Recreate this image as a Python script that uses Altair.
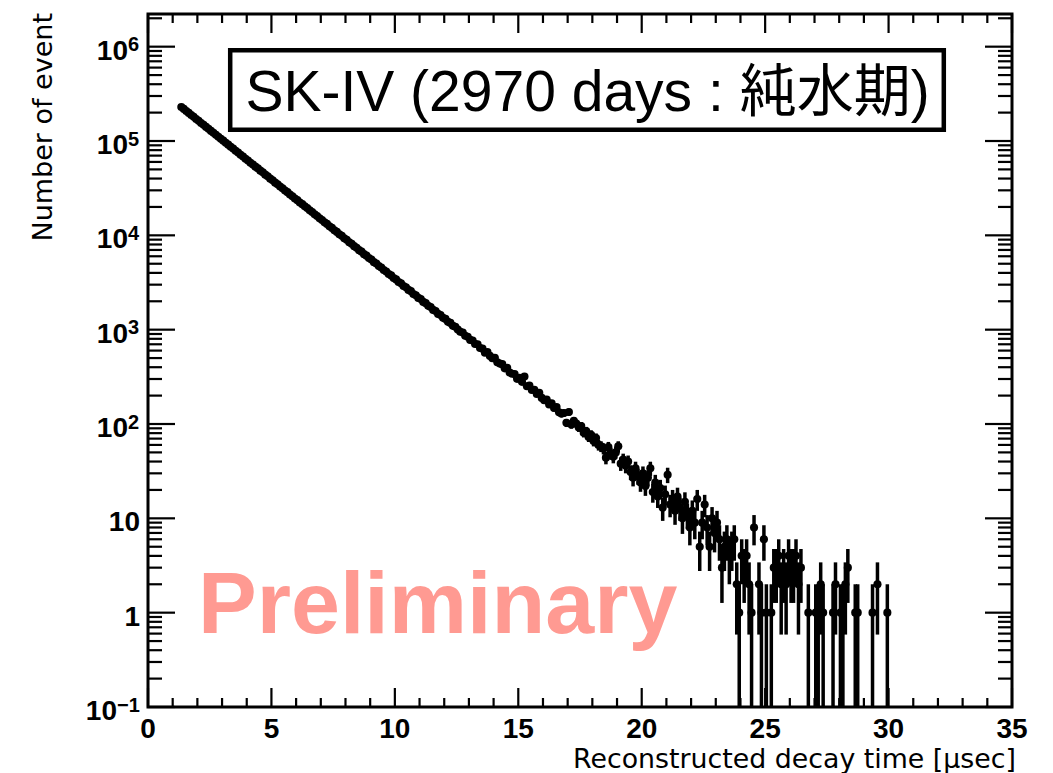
import altair as alt
import pandas as pd

# Reconstructed decay-time histogram, 0.1 usec bins, first bin centred at 1.35 usec
counts = [
    229400, 218900, 208000, 198600, 188700, 180300, 171200, 163600, 155400, 148500,
    141100, 134800, 128000, 122400, 116200, 111100, 105400, 100800, 95700, 91500,
    86900, 83100, 78800, 75400, 71500, 68500, 64900, 62200, 58900, 56400,
    53500, 51200, 48500, 46500, 44000, 42200, 39900, 38300, 36200, 34800,
    32900, 31600, 29800, 28700, 27100, 26000, 24600, 23600, 22300, 21400,
    20300, 19450, 18400, 17680, 16700, 16030, 15150, 14560, 13740, 13220,
    12480, 11990, 11320, 10880, 10270, 9880, 9320, 8970, 8460, 8140,
    7680, 7390, 6970, 6710, 6320, 6090, 5740, 5530, 5200, 5020,
    4720, 4560, 4290, 4140, 3890, 3760, 3530, 3410, 3200, 3100,
    2900, 2815, 2640, 2560, 2390, 2320, 2170, 2110, 1970, 1910,
    1790, 1735, 1620, 1575, 1470, 1430, 1335, 1300, 1210, 1180,
    1098, 1074, 1003, 951, 931, 861, 842, 779, 768, 705,
    701, 640, 629, 571, 580, 527, 498, 503, 452, 437,
    431, 389, 395, 352, 341, 338, 301, 309, 280, 318,
    251, 255, 229, 231, 208, 214, 189, 179, 182, 161,
    166, 148, 151, 133, 129, 131, 103, 134, 99, 108,
    101, 92, 95, 81, 84, 73, 77, 66, 71, 60,
    58, 55, 44, 57, 49, 45, 50, 58, 38, 42,
    36, 40, 31, 27, 34, 28, 24, 30, 22, 27,
    34, 19, 24, 17, 21, 13, 18, 29, 14, 16,
    12, 17, 13, 10, 15, 11, 8, 12, 9, 16,
    5, 9, 14, 8, 5, 10, 7, 9, 6, 3,
    5, 6, 4, 5, 6, 2, 1, 4, 3, 4,
    2, 1, 8, 0, 2, 1, 6, 1, 0, 1,
    3, 3, 4, 2, 3, 2, 4, 3, 3, 4,
    2, 3, 0, 0, 1, 0, 0, 1, 1, 2,
    1, 0, 0, 0, 1, 2, 0, 1, 1, 2,
    3, 0, 0, 1, 1, 0, 0, 0, 0, 0,
    1, 0, 2, 0, 0, 0, 1,
]
first_center = 1.35
bin_width = 0.1
bin_centers = [round(first_center + bin_width * i, 2) for i in range(len(counts))]

x_major = [0, 5, 10, 15, 20, 25, 30, 35]
x_minor = [v for v in range(0, 36) if v % 5 != 0]
y_major = [0.1, 1, 10, 100, 1000, 1e4, 1e5, 1e6]
y_label_base = ["10", "1", "10", "10", "10", "10", "10", "10"]
y_label_exp = ["\u22121", "", "", "2", "3", "4", "5", "6"]
y_minor = [m * d for d in y_major for m in range(2, 10) if m * d <= 2.2e6]

x_title = "Reconstructed decay time [\u03bcsec]"
y_title = "Number of event"
banner = "SK-IV (2970 days : 純水期)"
watermark = "Preliminary"

W, H = 864, 693
Y_MIN, Y_MAX = 0.1, 2.22e6

xs = alt.Scale(domain=[0, 35], nice=False, zero=False)
ys = alt.Scale(type="log", domain=[Y_MIN, Y_MAX], nice=False)

LABEL_FONT = "Liberation Sans"
TITLE_FONT = "DejaVu Sans"

one = pd.DataFrame({"k": [0]})

# ---- histogram points with sqrt(N) error bars ----
hist = (
    alt.Chart(pd.DataFrame({"t": bin_centers, "n": counts}))
    .transform_filter("datum.n > 0")
    .transform_calculate(
        hi="datum.n + sqrt(datum.n)",
        lo=f"max(datum.n - sqrt(datum.n), {Y_MIN})",
    )
)
errbars = hist.mark_rule(color="black", strokeWidth=3.5, clip=True).encode(
    x=alt.X("t:Q", scale=xs, axis=None),
    y=alt.Y("lo:Q", scale=ys, axis=None),
    y2="hi:Q",
)
dots = hist.mark_circle(color="black", size=66, opacity=1, clip=True).encode(
    x=alt.X("t:Q", scale=xs, axis=None),
    y=alt.Y("n:Q", scale=ys, axis=None),
)

# ---- inward ticks on all four sides ----
tick_style = dict(color="black", strokeWidth=2.2)


def x_ticks(values, length):
    d = alt.Chart(pd.DataFrame({"v": values}))
    enc_x = alt.X("v:Q", scale=xs, axis=None)
    return [
        d.mark_rule(**tick_style).encode(x=enc_x, y=alt.value(H), y2=alt.value(H - length)),
        d.mark_rule(**tick_style).encode(x=enc_x, y=alt.value(0), y2=alt.value(length)),
    ]


def y_ticks(values, length):
    d = alt.Chart(pd.DataFrame({"v": values}))
    enc_y = alt.Y("v:Q", scale=ys, axis=None)
    return [
        d.mark_rule(**tick_style).encode(y=enc_y, x=alt.value(0), x2=alt.value(length)),
        d.mark_rule(**tick_style).encode(y=enc_y, x=alt.value(W), x2=alt.value(W - length)),
    ]


ticks = x_ticks(x_major, 19) + x_ticks(x_minor, 9) + y_ticks(y_major, 27) + y_ticks(y_minor, 14)

# ---- tick labels ----
x_labels = (
    alt.Chart(pd.DataFrame({"v": x_major, "s": [str(v) for v in x_major]}))
    .mark_text(font=LABEL_FONT, fontWeight="bold", fontSize=28, align="center",
               baseline="alphabetic", color="black")
    .encode(x=alt.X("v:Q", scale=xs, axis=None), y=alt.value(H + 30.5), text="s:N")
)

ylab = alt.Chart(pd.DataFrame({"v": y_major, "base": y_label_base, "sup": y_label_exp}))
base_style = dict(font=LABEL_FONT, fontWeight="bold", fontSize=28, baseline="alphabetic",
                  color="black", dy=13)
sup_style = dict(font=LABEL_FONT, fontWeight="bold", fontSize=20, baseline="alphabetic",
                 color="black", dy=4.5, align="left")
y_enc = alt.Y("v:Q", scale=ys, axis=None)
y_labels = [
    ylab.transform_filter("datum.sup == ''")
        .mark_text(align="right", **base_style)
        .encode(y=y_enc, x=alt.value(-8), text="base:N"),
    ylab.transform_filter("length(datum.sup) == 1")
        .mark_text(align="right", **base_style)
        .encode(y=y_enc, x=alt.value(-20), text="base:N"),
    ylab.transform_filter("length(datum.sup) == 1")
        .mark_text(**sup_style)
        .encode(y=y_enc, x=alt.value(-20), text="sup:N"),
    ylab.transform_filter("length(datum.sup) > 1")
        .mark_text(align="right", **base_style)
        .encode(y=y_enc, x=alt.value(-31), text="base:N"),
    ylab.transform_filter("length(datum.sup) > 1")
        .mark_text(**sup_style)
        .encode(y=y_enc, x=alt.value(-31), text="sup:N"),
]

# ---- titles, frame and annotations ----
base = alt.Chart(one)
x_title_mark = base.mark_text(font=TITLE_FONT, fontSize=26.8, align="right",
                              baseline="alphabetic", color="black", text=x_title).encode(
    x=alt.value(868), y=alt.value(754))
y_title_mark = base.mark_text(font=TITLE_FONT, fontSize=27, align="right", angle=270,
                              baseline="alphabetic", color="black", text=y_title).encode(
    x=alt.value(-96.5), y=alt.value(-1))

frame = base.mark_rect(fillOpacity=0, stroke="black", strokeWidth=3).encode(
    x=alt.value(0), x2=alt.value(W), y=alt.value(0), y2=alt.value(H))

banner_box = base.mark_rect(fill="white", stroke="black", strokeWidth=4.5).encode(
    x=alt.value(82.2), x2=alt.value(795.8), y=alt.value(36.2), y2=alt.value(115.8))
banner_text = base.mark_text(font="Liberation Sans, 'Noto Sans CJK JP'", fontSize=57,
                             align="center", baseline="alphabetic", color="black",
                             text=banner).encode(x=alt.value(439.5), y=alt.value(97))

watermark_text = base.mark_text(font=LABEL_FONT, fontWeight="bold", fontSize=88,
                                align="left", baseline="alphabetic", color="#ff9a92",
                                text=watermark).encode(x=alt.value(50), y=alt.value(619))

chart = alt.layer(
    watermark_text,
    errbars,
    dots,
    *ticks,
    frame,
    banner_box,
    banner_text,
    x_labels,
    *y_labels,
    x_title_mark,
    y_title_mark,
).properties(
    width=W,
    height=H,
    padding={"left": 148, "top": 14, "right": 41, "bottom": 66},
    autosize=alt.AutoSizeParams(type="none"),
    background="white",
).configure_view(stroke="transparent")

chart.save("out.html", embed_options={"renderer": "svg", "actions": False})
